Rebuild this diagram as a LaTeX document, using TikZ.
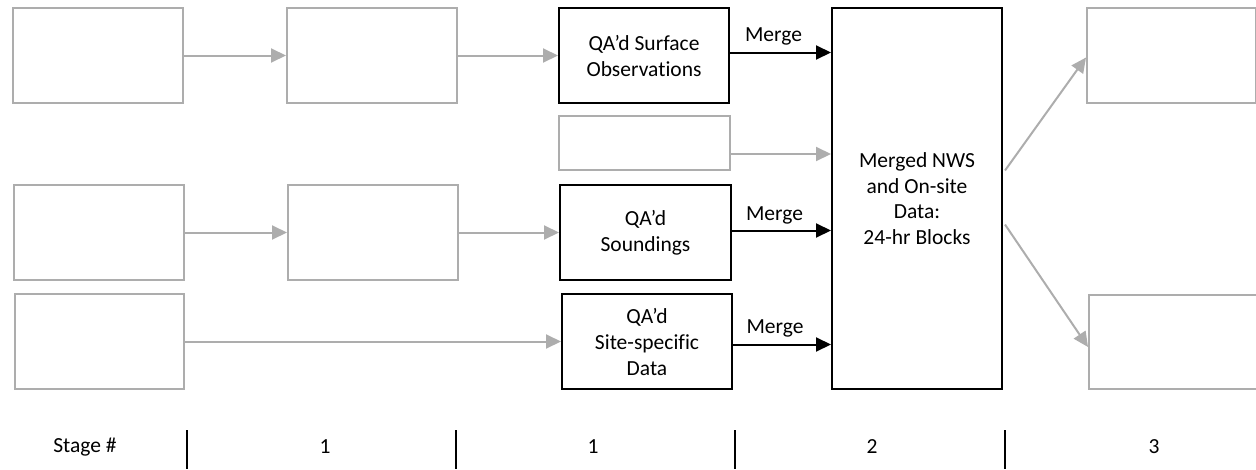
\documentclass[tikz,border=0pt]{standalone}
\usepackage{fontspec}
\setmainfont[Ligatures=NoCommon]{Carlito}
\usetikzlibrary{arrows.meta,calc}
\definecolor{boxgray}{RGB}{173,173,173}
\tikzset{
  blank/.style={draw=boxgray, line width=2pt, rectangle, inner sep=0pt, anchor=north west},
  databox/.style={draw=black, line width=2pt, rectangle, inner sep=0pt, anchor=north west,
    align=center, font=\fontsize{21.5}{26}\selectfont},
  bigbox/.style={draw=black, line width=2pt, rectangle, inner sep=0pt, anchor=north west,
    align=center, font=\fontsize{21.5}{25.5}\selectfont},
  grayflow/.style={draw=boxgray, line width=2pt, -{Triangle[length=15pt,width=14pt]}},
  blackflow/.style={draw=black, line width=2pt, -{Triangle[length=15pt,width=14pt]}},
  lbl/.style={font=\fontsize{21.5}{26}\selectfont, inner sep=0pt},
  mergelbl/.style={lbl, xshift=-7pt},
  stagebar/.style={draw=black, line width=2.5pt}
}
\begin{document}
\begin{tikzpicture}[x=1pt,y=-1pt]
\useasboundingbox (0,0) rectangle (1256,469);

% upper row
\node[blank, minimum width=170pt, minimum height=95pt] (a1) at (12,7) {};
\node[blank, minimum width=170pt, minimum height=95pt] (b1) at (286,7) {};
\node[databox, minimum width=170pt, minimum height=95pt] (c1) at (558,7) {QA’d Surface\\Observations};
\node[blank, minimum width=171pt, minimum height=54pt] (g1) at (558,115) {};

% middle row
\node[blank, minimum width=170pt, minimum height=95pt] (a2) at (13,184) {};
\node[blank, minimum width=170pt, minimum height=95pt] (b2) at (287,184) {};
\node[databox, minimum width=171pt, minimum height=95pt] (c2) at (559,184) {QA’d\\Soundings};

% lower row
\node[blank, minimum width=169pt, minimum height=95pt] (a3) at (14,293) {};
\node[databox, minimum width=170pt, minimum height=95pt] (c3) at (561,293) {QA’d\\Site-specific\\Data};

% merged data
\node[bigbox, minimum width=170pt, minimum height=381pt] (big) at (831,7) {Merged NWS\\and On-site\\Data:\\24-hr Blocks};

% outputs
\node[blank, minimum width=169pt, minimum height=95pt] (r1) at (1086,7) {};
\node[blank, minimum width=168pt, minimum height=94pt] (r2) at (1088,294) {};

% flows
\draw[grayflow] (a1) -- (b1);
\draw[grayflow] (b1) -- (c1);
\draw[grayflow] (a2) -- (b2);
\draw[grayflow] (b2) -- (c2);
\draw[grayflow] (a3) -- (c3);
\draw[grayflow] ($(g1.east)+(0,11)$) -- ($(g1.east -| big.west)+(0,11)$);

\draw[blackflow] ($(c1.east)+(0,-3)$) -- node[mergelbl, above=6pt] {Merge} ($(c1.east -| big.west)+(0,-3)$);
\draw[blackflow] ($(c2.east)+(0,-2)$) -- node[mergelbl, above=5pt] {Merge} ($(c2.east -| big.west)+(0,-2)$);
\draw[blackflow] ($(c3.east)+(0,3)$) -- node[mergelbl, above=6pt] {Merge} ($(c3.east -| big.west)+(0,3)$);

\draw[grayflow] ($(big.east)+(2,-28)$) -- ($(r1.west)+(0,2)$);
\draw[grayflow] ($(big.east)+(2,26)$) -- ($(r2.west)+(0,5)$);

% stage scale
\node[lbl] (s0) at (85,447) {Stage \#};
\node[lbl] (s1) at (325,447) {1};
\node[lbl] (s2) at (593,447) {1};
\node[lbl] (s3) at (872,447) {2};
\node[lbl] (s4) at (1154,447) {3};
\foreach \xb in {187,456,735,1005}
  \draw[stagebar] (\xb,430) -- (\xb,469);
\end{tikzpicture}
\end{document}
